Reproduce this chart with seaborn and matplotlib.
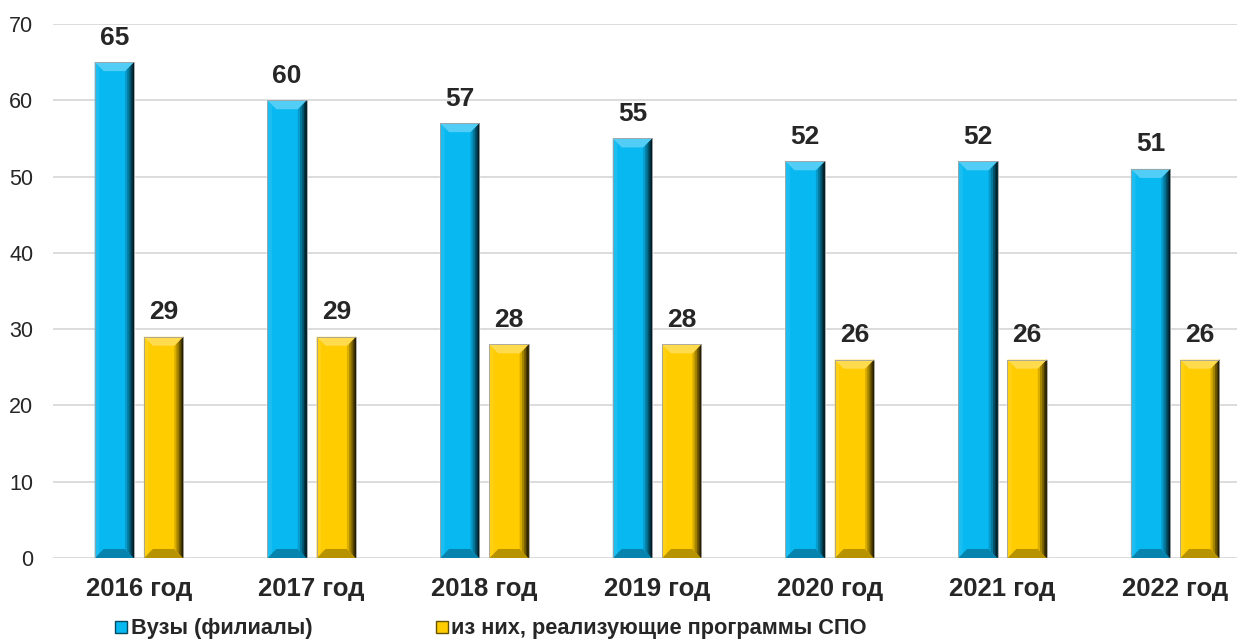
import pandas as pd
import seaborn as sns
import matplotlib.pyplot as plt
from matplotlib.patches import Polygon, Rectangle
from matplotlib.colors import to_rgb

years = ['2016 год', '2017 год', '2018 год', '2019 год', '2020 год', '2021 год', '2022 год']
vuzy = [65, 60, 57, 55, 52, 52, 51]
spo = [29, 29, 28, 28, 26, 26, 26]
series = ['Вузы (филиалы)', 'из них, реализующие программы СПО']
colors = ['#08B8F0', '#FFCC00']

df = pd.DataFrame({
    'year': years * 2,
    'value': vuzy + spo,
    'series': [series[0]] * len(years) + [series[1]] * len(years),
})

sns.set_style('white')
plt.rcParams['font.family'] = ['Liberation Sans', 'DejaVu Sans']

fig = plt.figure(figsize=(12.37, 6.41), dpi=100)
ax = fig.add_axes([0.0428, 0.1295, 0.9572, 0.8331])

sns.barplot(data=df, x='year', y='value', hue='series', palette=colors,
            width=0.57, gap=0.2, saturation=1, ax=ax, legend=False, zorder=3)

ax.set_ylim(0, 70)
ax.set_xlim(-0.498, 6.358)
ax.set_yticks(range(0, 71, 10))
ax.yaxis.grid(True, color='#D9D9D9', linewidth=1.3, zorder=0)
ax.xaxis.grid(False)
for s in ax.spines.values():
    s.set_visible(False)
ax.set_xlabel('')
ax.set_ylabel('')
ax.tick_params(axis='y', labelsize=15.5, colors='#262626', length=0, pad=14)
ax.tick_params(axis='x', labelsize=18.5, colors='#262626', length=0, pad=14)
for t in ax.get_xticklabels():
    t.set_fontweight('bold')

# bevel shading derived from the drawn bars
fig.canvas.draw()
inv = ax.transData.inverted()
p0 = inv.transform((0, 0))
p1 = inv.transform((9, 9))
bw, bh = p1[0] - p0[0], p1[1] - p0[1]


def shade(c, f):
    r, g, b = to_rgb(c)
    if f < 1:
        return (r * f, g * f, b * f)
    k = f - 1
    return (r + (1 - r) * k, g + (1 - g) * k, b + (1 - b) * k)


for cont, col in zip(ax.containers, colors):
    for bar in cont:
        x0, w, h = bar.get_x(), bar.get_width(), bar.get_height()
        x1 = x0 + w
        polys = [
            ([(x0, 0), (x1, 0), (x1 - bw, bh), (x0 + bw, bh)], shade(col, 0.72)),
            ([(x0, 0), (x0 + bw * 0.5, bh * 0.5), (x0 + bw * 0.5, h - bh * 0.5), (x0, h)], shade(col, 1.08)),
        ]
        # right-side gradient
        steps = [(1.0, 0.85), (0.75, 0.65), (0.5, 0.45), (0.3, 0.28), (0.15, 0.15)]
        for frac, f in steps:
            d = bw * frac
            polys.append(([(x1 - d, d / bw * bh), (x1, 0), (x1, h), (x1 - d, h - d / bw * bh)], shade(col, f)))
        polys.append(([(x0, h), (x1, h), (x1 - bw, h - bh), (x0 + bw, h - bh)], shade(col, 1.3)))
        for pts, c in polys:
            ax.add_patch(Polygon(pts, closed=True, facecolor=c, edgecolor='none', zorder=4))
        ax.add_patch(Rectangle((x0, 0), w, h, facecolor='none', edgecolor='#a0a0a0',
                               linewidth=0.6, zorder=5))

for cont in ax.containers:
    ax.bar_label(cont, padding=9, fontsize=19, fontweight='bold', color='#262626')

handles = [plt.Line2D([], [], marker='s', linestyle='none', markersize=8,
                      markerfacecolor=c, markeredgecolor=shade(c, 0.4)) for c in colors]
fig.legend(handles, series, loc='center left', bbox_to_anchor=(0.077, 0.019),
           ncol=2, frameon=False, handlelength=0.6, handletextpad=0.15,
           columnspacing=5.6, prop={'size': 15.7, 'weight': 'bold'}, labelcolor='#262626')

plt.savefig('out.png', dpi=100)
